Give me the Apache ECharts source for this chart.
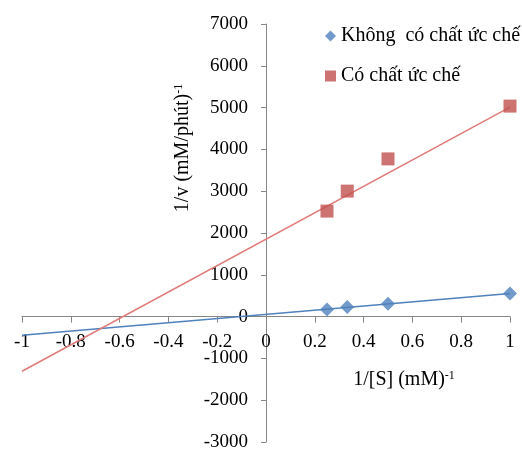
<!DOCTYPE html>
<html>
<head>
<meta charset="utf-8">
<script src="https://cdn.jsdelivr.net/npm/echarts@6/dist/echarts.min.js"></script>
<style>html,body{margin:0;padding:0;background:#fff}#c{width:522px;height:452px}</style>
</head>
<body>
<div id="c"></div>
<script>
var substrateInv = [0.25, 0.333, 0.5, 1];
var noInhibitor = [167, 230, 310, 550];
var withInhibitor = [2524, 3002, 3773, 5036];
// trendline end values, at x = -1 and x = 1
var trendX = [-1, 1];
var trendNoInhibitor = [-445, 553];
var trendWithInhibitor = [-1308, 5010];
var seriesNames = ['Không  có chất ức chế', 'Có chất ức chế'];
var xTicks = { min: -1, max: 1, interval: 0.2 };
var yTicks = { min: -3000, max: 7000, interval: 1000 };

function pts(xs, ys) { return xs.map(function (x, i) { return [x, ys[i]]; }); }

var FONT = 'Liberation Serif';
var GL = 22, GR = 12, GT = 24, GB = 10, W = 522, H = 452;
var plotW = W - GL - GR, plotH = H - GT - GB;
var yZeroFromBottom = plotH * (0 - yTicks.min) / (yTicks.max - yTicks.min);
var xZeroFromLeft = plotW * (0 - xTicks.min) / (xTicks.max - xTicks.min);

var chart = echarts.init(document.getElementById('c'), null, { renderer: 'canvas' });
var axisCol = '#868686';
var supRich = {
  m: { fontFamily: FONT, fontSize: 20, color: '#000' },
  s: { fontFamily: FONT, fontSize: 12, color: '#000', verticalAlign: 'top', padding: [0, 0, 9, 0] }
};
chart.setOption({
  animation: false,
  textStyle: { fontFamily: FONT },
  grid: { left: GL, right: GR, top: GT, bottom: GB, containLabel: false, outerBoundsMode: 'none' },
  legend: {
    orient: 'vertical', left: 325, top: 26, padding: 0, itemWidth: 11, itemHeight: 11, itemGap: 20,
    textStyle: { fontFamily: FONT, fontSize: 20, color: '#000', lineHeight: 20 },
    data: [{ name: seriesNames[0], icon: 'diamond' }, { name: seriesNames[1], icon: 'rect' }]
  },
  xAxis: {
    type: 'value', min: xTicks.min, max: xTicks.max, interval: xTicks.interval,
    position: 'bottom', offset: -yZeroFromBottom,
    axisLine: { onZero: false, lineStyle: { color: axisCol, width: 1 } },
    axisTick: { show: true, length: 6, lineStyle: { color: axisCol } },
    axisLabel: { fontFamily: FONT, fontSize: 19, color: '#000', margin: 16,
      formatter: function (v) { return String(Math.round(v * 10) / 10); } },
    splitLine: { show: false }
  },
  yAxis: {
    type: 'value', min: yTicks.min, max: yTicks.max, interval: yTicks.interval,
    position: 'left', offset: -xZeroFromLeft,
    axisLine: { show: true, onZero: false, lineStyle: { color: axisCol, width: 1 } },
    axisTick: { show: true, length: 5, lineStyle: { color: axisCol } },
    axisLabel: { fontFamily: FONT, fontSize: 19, color: '#000', margin: 18,
      formatter: function (v) { return String(Math.round(v)); } },
    splitLine: { show: false }
  },
  graphic: [
    {
      type: 'text', x: 183, y: 148, rotation: Math.PI / 2,
      style: { text: '{m|1/v (mM/phút)}{s|-1}', align: 'center', verticalAlign: 'middle', rich: supRich }
    },
    {
      type: 'text', x: 404, y: 380,
      style: { text: '{m|1/[S] (mM)}{s|-1}', align: 'center', verticalAlign: 'middle', rich: supRich }
    }
  ],
  series: [
    { name: 'trend1', type: 'line', data: pts(trendX, trendNoInhibitor), showSymbol: false, silent: true, z: 1,
      lineStyle: { color: '#4F81BD', width: 1.5 } },
    { name: 'trend2', type: 'line', data: pts(trendX, trendWithInhibitor), showSymbol: false, silent: true, z: 1,
      lineStyle: { color: '#E07B79', width: 1.5 } },
    { name: seriesNames[0], type: 'scatter', data: pts(substrateInv, noInhibitor), symbol: 'diamond', symbolSize: 14, z: 3,
      itemStyle: { color: '#4F81BD' } },
    { name: seriesNames[1], type: 'scatter', data: pts(substrateInv, withInhibitor), symbol: 'rect', symbolSize: 13, z: 3,
      itemStyle: { color: '#C0504D' } }
  ]
});
</script>
</body>
</html>
